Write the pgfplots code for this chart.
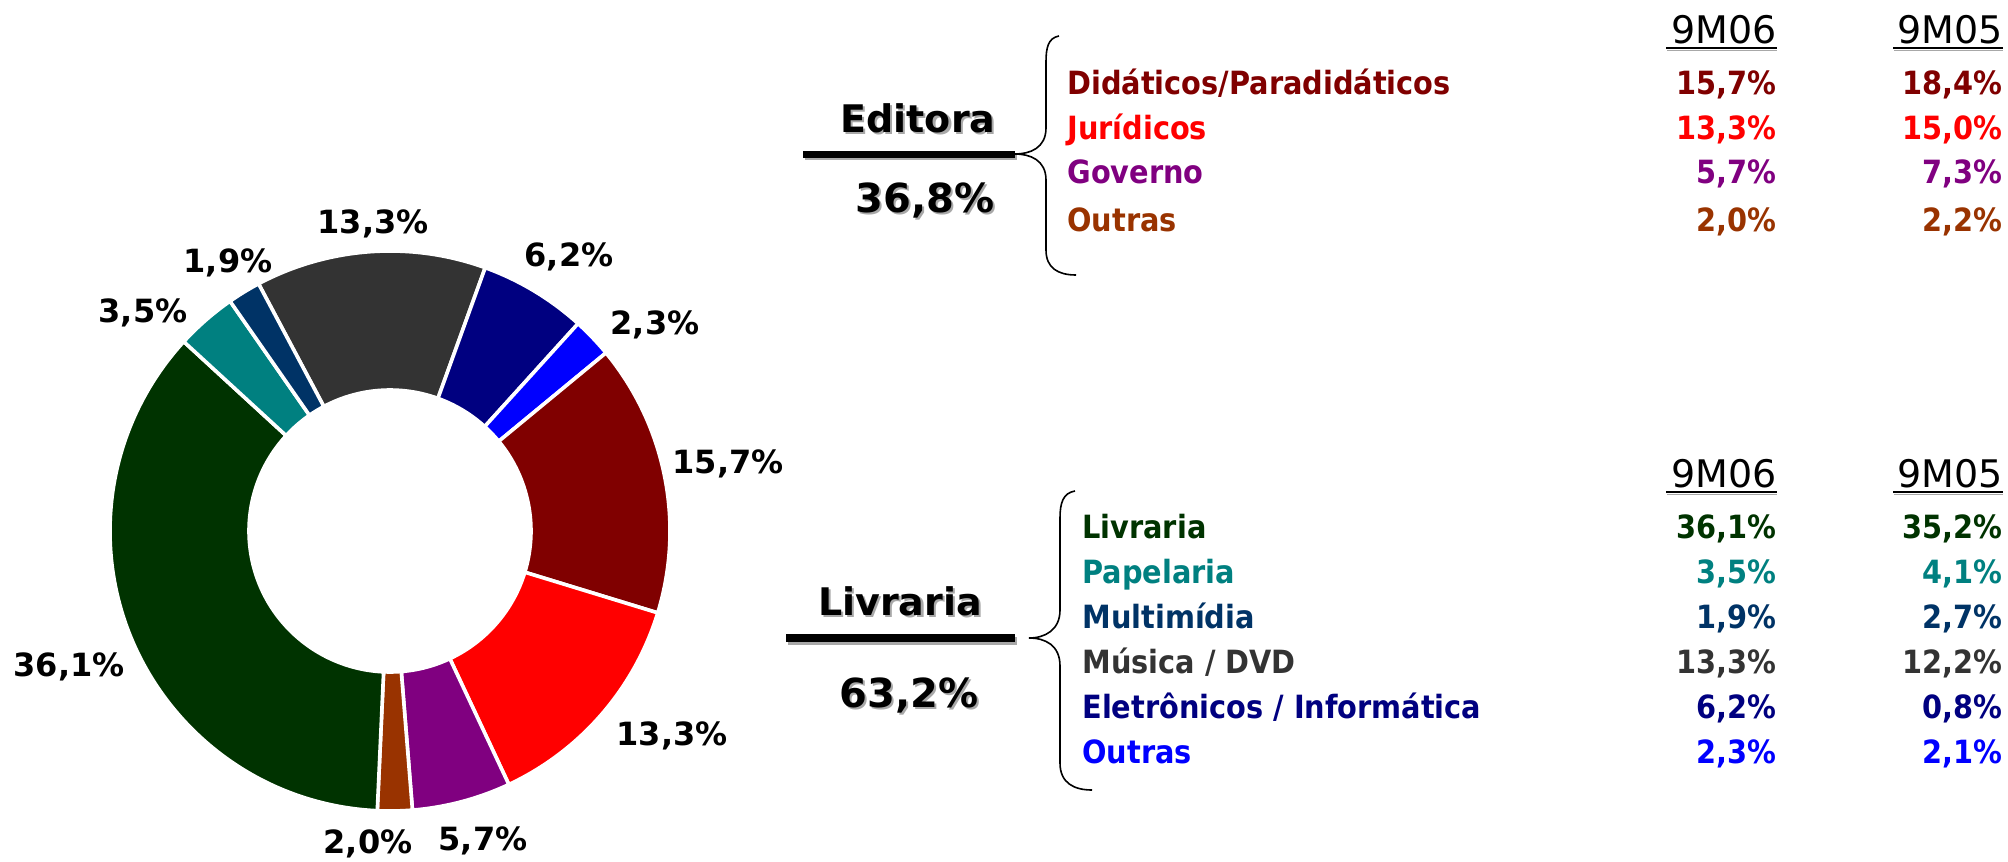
\documentclass[border=0pt]{standalone}
\usepackage{pgfplots}
\pgfplotsset{compat=1.18}
\usepackage{pgfplotstable}
\usepackage{fontspec}
\setmainfont{DejaVu Sans}
\newfontfamily\cond{DejaVu Sans Condensed}
\definecolor{cGray}{HTML}{333333}
\definecolor{cNavy}{HTML}{000080}
\definecolor{cBlue}{HTML}{0000FF}
\definecolor{cDarkRed}{HTML}{800000}
\definecolor{cRed}{HTML}{FF0000}
\definecolor{cPurple}{HTML}{800080}
\definecolor{cBrown}{HTML}{993300}
\definecolor{cGreen}{HTML}{003300}
\definecolor{cTeal}{HTML}{008080}
\definecolor{cDkBlue}{HTML}{003366}
\definecolor{shadow}{HTML}{A8A8A8}

% share, colour, label position (pixel coordinates, y downwards)
\pgfplotstableread{
share col lx ly
13.3 cGray 373 233
6.2 cNavy 569 266
2.3 cBlue 655 334
15.7 cDarkRed 728 473
13.3 cRed 672 745
5.7 cPurple 483 850
2.0 cBrown 368 853
36.1 cGreen 69 676
3.5 cTeal 143 322
1.9 cDkBlue 228 272
}\slices

\newcommand\bigtxt[4]{% x, baseline, text, size
  \node[anchor=base,inner sep=0pt,text=shadow,font=\bfseries\fontsize{#4}{#4}\selectfont,xshift=1.1pt,yshift=-1.1pt] at (axis cs:#1,#2) {#3};
  \node[anchor=base,inner sep=0pt,text=black,font=\bfseries\fontsize{#4}{#4}\selectfont] at (axis cs:#1,#2) {#3};}
\newcommand\trow[6]{% baseline, x, colour, name, v1, v2
  \node[anchor=base west,inner sep=0pt,text=#3,font=\cond\bfseries\fontsize{16}{16}\selectfont] at (axis cs:#2,#1) {#4};
  \node[anchor=base east,inner sep=0pt,text=#3,font=\cond\bfseries\fontsize{16}{16}\selectfont] at (axis cs:1777,#1) {#5};
  \node[anchor=base east,inner sep=0pt,text=#3,font=\cond\bfseries\fontsize{16}{16}\selectfont] at (axis cs:2003,#1) {#6};}
\newcommand\theads[1]{% baseline
  \node[anchor=base east,inner sep=0pt,font=\fontsize{19}{19}\selectfont] at (axis cs:1777,#1) {9M06};
  \node[anchor=base east,inner sep=0pt,font=\fontsize{19}{19}\selectfont] at (axis cs:2003,#1) {9M05};
  \draw[line width=1.1pt,black] (axis cs:1666,#1+5) -- (axis cs:1777,#1+5);
  \draw[line width=1.1pt,black] (axis cs:1893,#1+5) -- (axis cs:2003,#1+5);
  \draw[line width=0.8pt,shadow] (axis cs:1667,#1+7.5) -- (axis cs:1777,#1+7.5);
  \draw[line width=0.8pt,shadow] (axis cs:1894,#1+7.5) -- (axis cs:2003,#1+7.5);}

\begin{document}
\begin{tikzpicture}
\begin{axis}[width=1004pt,height=431pt,scale only axis,
  xmin=0,xmax=2008,ymin=0,ymax=862,y dir=reverse,
  axis lines=none,xtick=\empty,ytick=\empty,clip=false]
% ---- donut ----
\pgfplotstablegetrowsof{\slices}
\pgfmathtruncatemacro{\nrows}{\pgfplotsretval-1}
\xdef\angstart{118}
\pgfplotsforeachungrouped \i in {0,...,\nrows}{%
  \pgfplotstablegetelem{\i}{share}\of{\slices}\let\sh\pgfplotsretval
  \pgfplotstablegetelem{\i}{col}\of{\slices}\let\cl\pgfplotsretval
  \pgfmathsetmacro{\aend}{\angstart-3.6*\sh}%
  \pgfmathsetmacro{\xa}{390+280*cos(\angstart)}%
  \pgfmathsetmacro{\ya}{531-280*sin(\angstart)}%
  \pgfmathsetmacro{\xb}{390+141*cos(\aend)}%
  \pgfmathsetmacro{\yb}{531-141*sin(\aend)}%
  \edef\temp{\noexpand\filldraw[fill=\cl,draw=white,line width=1.8pt,line join=round] (axis cs:\xa,\ya) arc[start angle=\angstart,end angle=\aend,radius=140pt] -- (axis cs:\xb,\yb) arc[start angle=\aend,end angle=\angstart,radius=70.5pt] -- cycle;}%
  \temp
  \xdef\angstart{\aend}%
}
% ---- slice labels ----
\addplot[draw=none,no markers,point meta=explicit,
  nodes near coords={\pgfmathprintnumber[fixed,fixed zerofill,precision=1,use comma,assume math mode=true]{\pgfplotspointmeta}\%},
  nodes near coords align={anchor=base},
  every node near coord/.append style={anchor=base,inner sep=0pt,text=black,font=\bfseries\fontsize{16}{16}\selectfont}]
  table[x=lx,y=ly,meta=share]{\slices};
% ---- Editora block ----
\bigtxt{918}{132}{Editora}{19}
\bigtxt{925}{212}{36,8\%}{20}
\draw[line width=3.5pt,shadow] (axis cs:805,156.5) -- (axis cs:1017,156.5);
\draw[line width=3.5pt,black] (axis cs:803,154) -- (axis cs:1015,154);
\draw[line width=0.8pt,black] (axis cs:1059,36) .. controls (axis cs:1048,38) and (axis cs:1046,48) .. (axis cs:1046,62)
  -- (axis cs:1046,128) .. controls (axis cs:1046,148) and (axis cs:1030,154) .. (axis cs:1015,154)
  .. controls (axis cs:1030,154) and (axis cs:1046,160) .. (axis cs:1046,180)
  -- (axis cs:1046,250) .. controls (axis cs:1046,268) and (axis cs:1058,275) .. (axis cs:1076,275);
\theads{43}
\trow{94}{1067}{cDarkRed}{Didáticos/Paradidáticos}{15,7\%}{18,4\%}
\trow{139}{1067}{cRed}{Jurídicos}{13,3\%}{15,0\%}
\trow{183}{1067}{cPurple}{Governo}{5,7\%}{7,3\%}
\trow{231}{1067}{cBrown}{Outras}{2,0\%}{2,2\%}
% ---- Livraria block ----
\bigtxt{900}{615}{Livraria}{19}
\bigtxt{909}{707}{63,2\%}{20}
\draw[line width=4pt,shadow] (axis cs:788,640.5) -- (axis cs:1017,640.5);
\draw[line width=4pt,black] (axis cs:786,638) -- (axis cs:1015,638);
\draw[line width=0.8pt,black] (axis cs:1075,491) .. controls (axis cs:1063,493) and (axis cs:1060,503) .. (axis cs:1060,518)
  -- (axis cs:1060,610) .. controls (axis cs:1060,630) and (axis cs:1045,638) .. (axis cs:1029,638)
  .. controls (axis cs:1045,638) and (axis cs:1060,645) .. (axis cs:1060,666)
  -- (axis cs:1060,763) .. controls (axis cs:1060,783) and (axis cs:1074,790) .. (axis cs:1092,790);
\theads{487}
\trow{538}{1082}{cGreen}{Livraria}{36,1\%}{35,2\%}
\trow{583}{1082}{cTeal}{Papelaria}{3,5\%}{4,1\%}
\trow{628}{1082}{cDkBlue}{Multimídia}{1,9\%}{2,7\%}
\trow{673}{1082}{cGray}{Música / DVD}{13,3\%}{12,2\%}
\trow{718}{1082}{cNavy}{Eletrônicos / Informática}{6,2\%}{0,8\%}
\trow{763}{1082}{cBlue}{Outras}{2,3\%}{2,1\%}
\coordinate (BL) at (axis cs:0,862);
\coordinate (TR) at (axis cs:2008,0);
\end{axis}
\pgfresetboundingbox
\useasboundingbox (BL) rectangle (TR);
\end{tikzpicture}
\end{document}
